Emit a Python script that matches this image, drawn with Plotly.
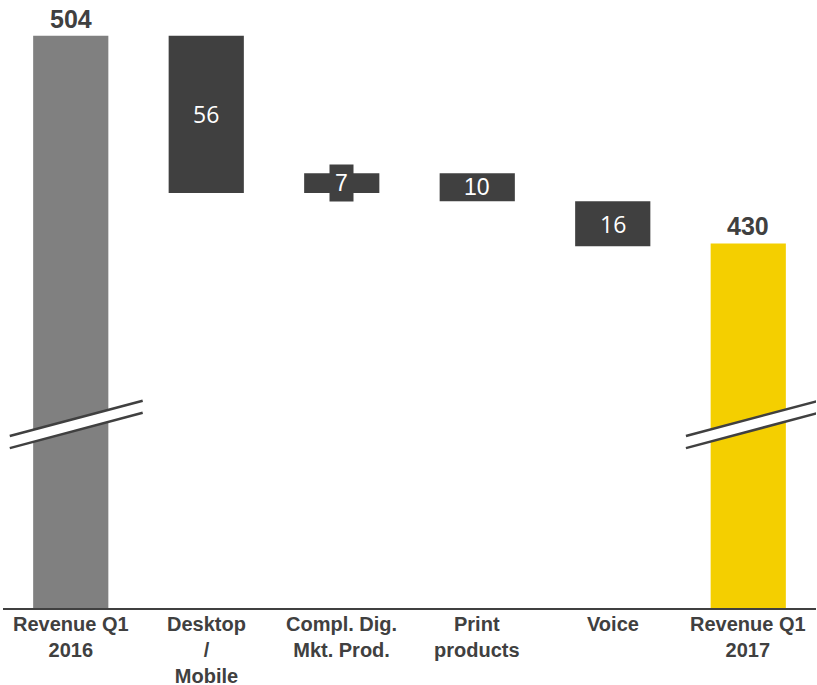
import plotly.graph_objects as go

categories = ["Revenue Q1<br>2016", "Desktop<br>/<br>Mobile", "Compl. Dig.<br>Mkt. Prod.",
              "Print<br>products", "Voice", "Revenue Q1<br>2017"]
start_value = 504
changes = [-56, 7, -10, -16]
end_value = 430

# compute bar bases/heights
bases, heights, colors = [], [], []
bases.append(0); heights.append(start_value); colors.append("#808080")
level = start_value
for c in changes:
    new = level + c
    bases.append(min(level, new)); heights.append(abs(c)); colors.append("#404040")
    level = new
bases.append(0); heights.append(end_value); colors.append("#F4CF00")

fig = go.Figure()
fig.add_trace(go.Bar(x=categories, y=heights, base=bases, marker=dict(color=colors, line=dict(width=0)),
                     width=0.555, hoverinfo="skip"))

# total labels above bars
for i, v in [(0, start_value), (5, end_value)]:
    fig.add_annotation(x=categories[i], y=v, text=f"<b>{v}</b>", showarrow=False, yanchor="bottom", yshift=1,
                       font=dict(family="Liberation Sans, Arial", size=25, color="#404040"))

# change labels inside bars
fonts = ["Open Sans", "Liberation Sans", "Liberation Sans", "Open Sans"]
for k, c in enumerate(changes):
    i = k + 1
    mid = bases[i] + heights[i] / 2
    kw = {}
    if abs(c) < 8:
        kw = dict(bgcolor="#404040", borderpad=5)
    fig.add_annotation(x=categories[i], y=mid, text=str(abs(c)), showarrow=False,
                       font=dict(family=fonts[k], size=23, color="white"), **kw)

# category labels below axis
for c in categories:
    fig.add_annotation(x=c, y=0, xref="x", yref="paper", yanchor="top", yshift=-3, showarrow=False,
                       text="<b>" + c.replace("<br>", "</b><br><b>") + "</b>",
                       font=dict(family="Liberation Sans, Arial", size=20, color="#404040"))

# axis break marks
def brk(x0, x1):
    y_top0, y_top1 = 361.3, 373.9
    y_bot0, y_bot1 = 357.0, 369.6
    fig.add_shape(type="path", xref="x", yref="y",
                  path=f"M {x0},{y_top0} L {x1},{y_top1} L {x1},{y_bot1} L {x0},{y_bot0} Z",
                  fillcolor="white", line=dict(width=0), layer="above")
    for a, b in [(y_top0, y_top1), (y_bot0, y_bot1)]:
        fig.add_shape(type="line", xref="x", yref="y", x0=x0, y0=a, x1=x1, y1=b,
                      line=dict(color="#404040", width=2.5), layer="above")

brk(-0.45, 0.531)
brk(4.54, 5.52)

fig.update_layout(
    width=817, height=685,
    margin=dict(l=3, r=1, t=19, b=77, autoexpand=False),
    plot_bgcolor="white", paper_bgcolor="white",
    showlegend=False, bargap=0.4,
    xaxis=dict(showline=True, linecolor="#404040", linewidth=2, ticks="", showgrid=False,
               showticklabels=False, range=[-0.5, 5.5], fixedrange=True, automargin=False),
    yaxis=dict(range=[300, 510], visible=False, showgrid=False, fixedrange=True, automargin=False),
)

fig.write_html("out.html")
